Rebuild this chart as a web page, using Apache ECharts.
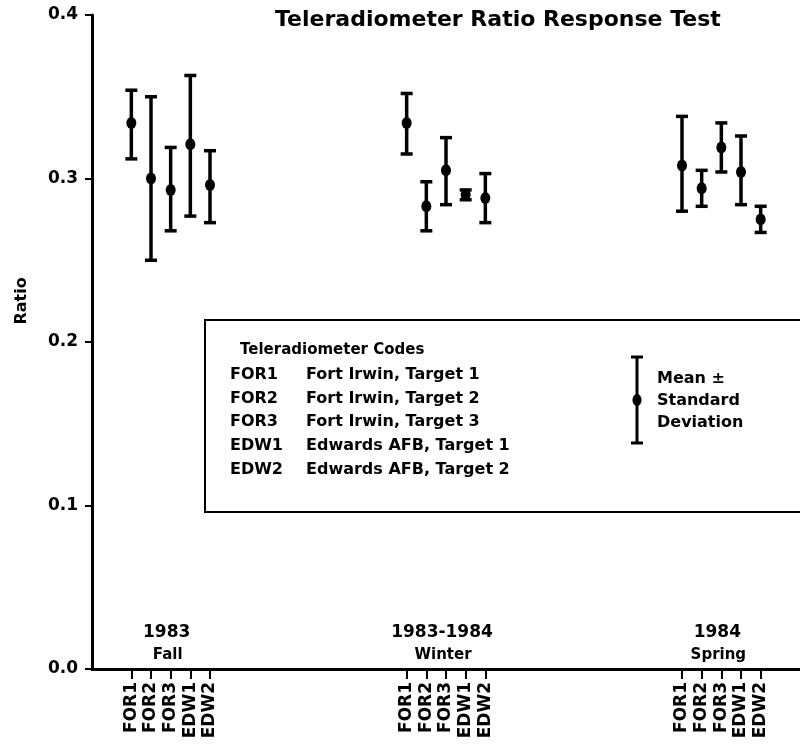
<!DOCTYPE html>
<html>
<head>
<meta charset="utf-8">
<script src="https://cdn.jsdelivr.net/npm/echarts@6/dist/echarts.min.js"></script>
<style>
  html, body { margin: 0; padding: 0; background: #fff; }
  #main { width: 800px; height: 746px; }
</style>
</head>
<body>
<div id="main"></div>
<script>
var myChart = echarts.init(document.getElementById("main"));

// codes for each teleradiometer
const codes = ["FOR1", "FOR2", "FOR3", "EDW1", "EDW2"];
const seasons = ["1983", "1983-1984", "1984"];
const seasonNames = ["Fall", "Winter", "Spring"];

// mean, lower (mean - sd) and upper (mean + sd), per season
const fallMean = [0.334, 0.300, 0.293, 0.321, 0.296];
const fallLow = [0.312, 0.250, 0.268, 0.277, 0.273];
const fallHigh = [0.354, 0.350, 0.319, 0.363, 0.317];

const winterMean = [0.334, 0.283, 0.305, 0.290, 0.288];
const winterLow = [0.315, 0.268, 0.284, 0.287, 0.273];
const winterHigh = [0.352, 0.298, 0.325, 0.293, 0.303];

const springMean = [0.308, 0.294, 0.319, 0.304, 0.275];
const springLow = [0.280, 0.283, 0.304, 0.284, 0.267];
const springHigh = [0.338, 0.305, 0.334, 0.326, 0.283];

const yTicks = [0, 0.1, 0.2, 0.3, 0.4];

const means = [fallMean, winterMean, springMean];
const lows = [fallLow, winterLow, springLow];
const highs = [fallHigh, winterHigh, springHigh];

// category slots: gap of 2, then 5 codes, gap of 9 ...
const groupStart = [2, 16, 30];
const slotCount = 37;
const categories = [];
for (let i = 0; i < slotCount; i++) categories.push("");
groupStart.forEach((s) => {
  codes.forEach((c, j) => { categories[s + j] = c; });
});

const barData = [];
const meanData = [];
groupStart.forEach((s, g) => {
  codes.forEach((c, j) => {
    barData.push([s + j, lows[g][j], highs[g][j]]);
    meanData.push([s + j, means[g][j]]);
  });
});

const yearLabels = groupStart.map((s, g) => ({ value: [s + 2, 0.0226], name: seasons[g] }));
const seasonLabels = groupStart.map((s, g) => ({ value: [s + 2, 0.0086], name: seasonNames[g] }));

const FONT = '"DejaVu Sans", "Liberation Sans", Arial, sans-serif';

function renderErrorBar(params, api) {
  const x = api.value(0);
  const lo = api.coord([x, api.value(1)]);
  const hi = api.coord([x, api.value(2)]);
  const w = 6;
  const style = { stroke: "#000", lineWidth: 3.5 };
  return {
    type: "group",
    children: [
      { type: "line", shape: { x1: hi[0], y1: hi[1], x2: lo[0], y2: lo[1] }, style: style },
      { type: "line", shape: { x1: hi[0] - w, y1: hi[1], x2: hi[0] + w, y2: hi[1] }, style: style },
      { type: "line", shape: { x1: lo[0] - w, y1: lo[1], x2: lo[0] + w, y2: lo[1] }, style: style },
    ],
  };
}

function showSlot(index, value) {
  return value !== "";
}

const legendFont = "bold 16px " + FONT;
const legendRows = [
  ["FOR1", "Fort Irwin, Target 1"],
  ["FOR2", "Fort Irwin, Target 2"],
  ["FOR3", "Fort Irwin, Target 3"],
  ["EDW1", "Edwards AFB, Target 1"],
  ["EDW2", "Edwards AFB, Target 2"],
];
const graphics = [
  {
    type: "rect",
    shape: { x: 205, y: 320, width: 620, height: 192 },
    style: { fill: "none", stroke: "#000", lineWidth: 2 },
  },
  {
    type: "text",
    style: { text: "Teleradiometer Codes", x: 240, y: 350, font: "bold 15px " + FONT, fill: "#000", verticalAlign: "middle" },
  },
  {
    type: "text",
    rotation: Math.PI / 2,
    x: 22,
    y: 301,
    style: { text: "Ratio", x: 0, y: 0, font: "bold 16px " + FONT, fill: "#000", align: "center", verticalAlign: "middle" },
  },
  { type: "line", shape: { x1: 637, y1: 357, x2: 637, y2: 443 }, style: { stroke: "#000", lineWidth: 3 } },
  { type: "line", shape: { x1: 631, y1: 357, x2: 643, y2: 357 }, style: { stroke: "#000", lineWidth: 3 } },
  { type: "line", shape: { x1: 631, y1: 443, x2: 643, y2: 443 }, style: { stroke: "#000", lineWidth: 3 } },
  { type: "ellipse", shape: { cx: 637, cy: 400, rx: 4.5, ry: 6 }, style: { fill: "#000" } },
];
legendRows.forEach((r, i) => {
  const y = 375 + i * 23.6;
  graphics.push({ type: "text", style: { text: r[0], x: 230, y: y, font: legendFont, fill: "#000", verticalAlign: "middle" } });
  graphics.push({ type: "text", style: { text: r[1], x: 306, y: y, font: legendFont, fill: "#000", verticalAlign: "middle" } });
});
["Mean \u00B1", "Standard", "Deviation"].forEach((t, i) => {
  graphics.push({ type: "text", style: { text: t, x: 657, y: 379 + i * 22, font: legendFont, fill: "#000", verticalAlign: "middle" } });
});

const labelScatter = {
  type: "scatter",
  symbolSize: 0,
  itemStyle: { opacity: 1 },
  emphasis: { disabled: true },
  silent: true,
};

option = {
  backgroundColor: "#fff",
  animation: false,
  title: {
    text: "Teleradiometer Ratio Response Test",
    left: 275,
    top: 9,
    padding: 0,
    textStyle: { fontFamily: FONT, fontWeight: "bold", fontSize: 22, color: "#000" },
  },
  grid: { left: 92, right: -12, top: 15, bottom: 77 },
  xAxis: {
    type: "category",
    data: categories,
    boundaryGap: false,
    axisLine: { lineStyle: { color: "#000", width: 3 } },
    axisTick: { interval: showSlot, length: 10, lineStyle: { color: "#000", width: 2 } },
    axisLabel: {
      interval: showSlot,
      rotate: 90,
      margin: 13,
      color: "#000",
      fontFamily: FONT,
      fontWeight: "bold",
      fontSize: 17,
    },
    splitLine: { show: false },
  },
  yAxis: {
    type: "value",
    min: yTicks[0],
    max: yTicks[yTicks.length - 1],
    interval: 0.1,
    axisLine: { show: true, lineStyle: { color: "#000", width: 3 } },
    axisTick: { show: true, length: 7, lineStyle: { color: "#000", width: 2 } },
    axisLabel: {
      margin: 14,
      color: "#000",
      fontFamily: FONT,
      fontWeight: "bold",
      fontSize: 17,
      formatter: (v) => v.toFixed(1),
    },
    splitLine: { show: false },
  },
  graphic: graphics,
  series: [
    {
      type: "custom",
      renderItem: renderErrorBar,
      encode: { x: 0, y: [1, 2] },
      data: barData,
      z: 3,
    },
    {
      type: "scatter",
      symbol: "circle",
      symbolSize: [10, 12],
      itemStyle: { color: "#000", opacity: 1 },
      data: meanData,
      z: 4,
    },
    Object.assign({}, labelScatter, {
      data: yearLabels,
      label: {
        show: true,
        position: "inside",
        offset: [-4, 1],
        formatter: (p) => p.name,
        color: "#000",
        fontFamily: FONT,
        fontWeight: "bold",
        fontSize: 17,
      },
    }),
    Object.assign({}, labelScatter, {
      data: seasonLabels,
      label: {
        show: true,
        position: "inside",
        offset: [-3, 0],
        formatter: (p) => p.name,
        color: "#000",
        fontFamily: FONT,
        fontWeight: "bold",
        fontSize: 15,
      },
    }),
  ],
};
myChart.setOption(option);
</script>
</body>
</html>
